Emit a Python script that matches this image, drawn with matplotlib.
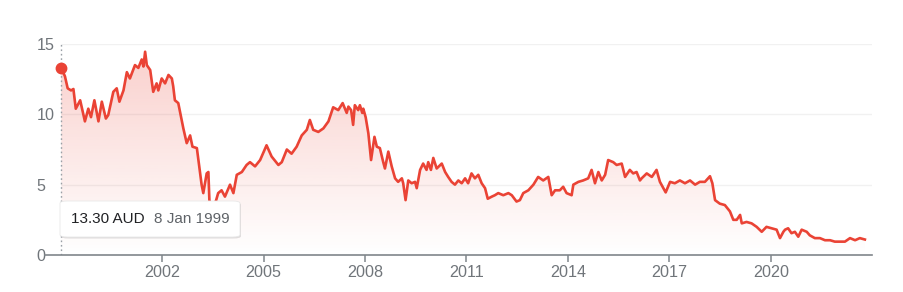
import matplotlib.pyplot as plt
import numpy as np
from matplotlib.patches import FancyBboxPatch

plt.rcParams['font.family'] = ['Liberation Sans', 'DejaVu Sans']

# price history (decimal year, AUD)
years = [
    1999.02, 1999.13, 1999.21, 1999.31, 1999.38, 1999.45, 1999.58, 1999.72, 1999.82, 1999.90,
    2000.00, 2000.12, 2000.22, 2000.34, 2000.41, 2000.56, 2000.66, 2000.74, 2000.86, 2000.96,
    2001.05, 2001.20, 2001.30, 2001.40, 2001.45, 2001.50, 2001.55, 2001.65, 2001.74, 2001.84,
    2001.89, 2001.99, 2002.09, 2002.19, 2002.29, 2002.33, 2002.38, 2002.48, 2002.63, 2002.73,
    2002.83, 2002.90, 2003.03, 2003.09, 2003.17, 2003.22, 2003.32, 2003.37, 2003.40, 2003.48,
    2003.60, 2003.66, 2003.76, 2003.86, 2004.01, 2004.11, 2004.21, 2004.36, 2004.50, 2004.60,
    2004.75, 2004.90, 2005.09, 2005.24, 2005.44, 2005.54, 2005.69, 2005.83, 2005.98, 2006.13,
    2006.28, 2006.37, 2006.47, 2006.62, 2006.77, 2006.92, 2007.06, 2007.21, 2007.34, 2007.46,
    2007.51, 2007.59, 2007.65, 2007.70, 2007.80, 2007.85, 2007.92, 2007.95, 2008.02, 2008.10,
    2008.18, 2008.28, 2008.35, 2008.44, 2008.54, 2008.59, 2008.69, 2008.79, 2008.89, 2008.98,
    2009.09, 2009.13, 2009.20, 2009.28, 2009.38, 2009.48, 2009.53, 2009.63, 2009.72, 2009.82,
    2009.87, 2009.95, 2010.02, 2010.12, 2010.27, 2010.37, 2010.46, 2010.56, 2010.66, 2010.76,
    2010.86, 2010.96, 2011.05, 2011.15, 2011.25, 2011.35, 2011.45, 2011.55, 2011.63, 2011.75,
    2011.84, 2011.94, 2012.09, 2012.24, 2012.34, 2012.48, 2012.58, 2012.68, 2012.83, 2012.98,
    2013.12, 2013.27, 2013.42, 2013.52, 2013.62, 2013.76, 2013.86, 2013.96, 2014.11, 2014.16,
    2014.31, 2014.45, 2014.60, 2014.70, 2014.80, 2014.90, 2015.00, 2015.10, 2015.19, 2015.34,
    2015.44, 2015.59, 2015.69, 2015.83, 2015.93, 2016.03, 2016.13, 2016.18, 2016.33, 2016.48,
    2016.62, 2016.72, 2016.89, 2017.02, 2017.16, 2017.31, 2017.46, 2017.61, 2017.76, 2017.90,
    2018.05, 2018.20, 2018.27, 2018.35, 2018.49, 2018.64, 2018.79, 2018.89, 2018.99, 2019.09,
    2019.14, 2019.28, 2019.43, 2019.58, 2019.73, 2019.87, 2020.02, 2020.17, 2020.27, 2020.37,
    2020.42, 2020.51, 2020.61, 2020.71, 2020.81, 2020.91, 2021.06, 2021.15, 2021.30, 2021.45,
    2021.60, 2021.75, 2021.89, 2022.04, 2022.19, 2022.34, 2022.49, 2022.63, 2022.78,
]
prices = [
    13.30, 12.70, 11.85, 11.70, 11.80, 10.40, 11.00, 9.50, 10.40, 9.80,
    11.00, 9.50, 10.90, 9.70, 9.95, 11.60, 11.85, 10.90, 11.70, 13.00,
    12.55, 13.50, 13.30, 13.90, 13.40, 14.45, 13.50, 13.15, 11.60, 12.20,
    11.70, 12.55, 12.20, 12.80, 12.55, 12.00, 11.00, 10.80, 9.00, 7.95,
    8.50, 7.70, 7.60, 6.50, 5.00, 4.40, 5.80, 5.90, 3.90, 3.20,
    3.90, 4.40, 4.60, 4.15, 5.00, 4.40, 5.70, 5.90, 6.40, 6.60,
    6.30, 6.75, 7.80, 7.00, 6.40, 6.60, 7.50, 7.20, 7.70, 8.50,
    8.90, 9.60, 8.90, 8.75, 9.00, 9.50, 10.50, 10.30, 10.80, 10.10,
    10.55, 10.30, 9.25, 10.65, 10.30, 10.65, 10.10, 10.40, 9.80, 8.65,
    6.75, 8.40, 7.70, 7.60, 6.60, 6.15, 7.35, 6.30, 5.45, 5.20,
    5.45, 5.10, 3.90, 5.30, 5.10, 5.20, 4.75, 6.05, 6.50, 6.05,
    6.60, 6.05, 6.90, 6.15, 6.50, 5.90, 5.55, 5.20, 5.00, 5.30,
    5.10, 5.45, 5.10, 5.80, 5.45, 5.70, 5.10, 4.75, 4.00, 4.15,
    4.25, 4.40, 4.25, 4.40, 4.25, 3.80, 3.90, 4.40, 4.60, 5.00,
    5.55, 5.30, 5.55, 4.25, 4.60, 4.60, 4.85, 4.40, 4.25, 5.00,
    5.20, 5.30, 5.45, 6.05, 5.10, 5.90, 5.30, 5.70, 6.75, 6.60,
    6.40, 6.50, 5.55, 6.05, 5.80, 5.90, 5.30, 5.45, 5.80, 5.55,
    6.05, 5.20, 4.45, 5.20, 5.10, 5.30, 5.10, 5.30, 5.00, 5.20,
    5.20, 5.60, 5.10, 3.90, 3.65, 3.55, 3.10, 2.50, 2.50, 2.85,
    2.25, 2.35, 2.25, 2.00, 1.65, 2.00, 1.90, 1.80, 1.20, 1.65,
    1.80, 1.90, 1.55, 1.65, 1.30, 1.80, 1.65, 1.40, 1.20, 1.20,
    1.05, 1.05, 0.95, 0.95, 0.95, 1.20, 1.05, 1.20, 1.10,
]

ytick_vals = [0, 5, 10, 15]
xtick_vals = [2002, 2005, 2008, 2011, 2014, 2017, 2020]
tooltip_price = '13.30 AUD'
tooltip_date = '8 Jan 1999'

red = '#ea4335'
gray_txt = '#70757a'
axis_col = '#80868b'

W, H = 904, 292
fig = plt.figure(figsize=(W / 100, H / 100), dpi=100)
ax = fig.add_axes([45 / W, 37 / H, 827 / W, 211 / H])
ax.set_xlim(1998.54, 2022.99)
ax.set_ylim(0, 15)

# faint gridlines
ax.hlines([5, 10, 15], years[0], 2022.99, color='#f1f1f1', lw=1, zorder=0)

# gradient fill under the line
poly = ax.fill_between(years, prices, 0, facecolor='none', edgecolor='none')
grad = np.linspace(0, 1, 256)
rgba = np.zeros((256, 1, 4))
rgba[:, 0, 0] = 234 / 255
rgba[:, 0, 1] = 67 / 255
rgba[:, 0, 2] = 53 / 255
rgba[:, 0, 3] = 0.26 * grad
im = ax.imshow(rgba, extent=[1998.54, 2022.99, 0, 15], origin='lower',
               aspect='auto', zorder=1)
im.set_clip_path(poly.get_paths()[0], transform=ax.transData)

ax.plot(years, prices, color=red, lw=1.9, zorder=3)

# hover marker
ax.axvline(years[0], color='#9aa0a6', lw=1, ls=(0, (1.2, 2)), zorder=2)
ax.plot([years[0]], [prices[0]], 'o', ms=7.5, color=red, zorder=4, clip_on=False)

for s in ['top', 'right', 'left']:
    ax.spines[s].set_visible(False)
ax.spines['bottom'].set_color(axis_col)
ax.spines['bottom'].set_linewidth(1.2)

ax.set_xticks(xtick_vals)
ax.set_xticklabels([str(v) for v in xtick_vals])
ax.tick_params(axis='x', direction='out', length=5, width=1.1, color=axis_col,
               labelcolor=gray_txt, labelsize=11.6, pad=2)
ax.set_yticks(ytick_vals)
ax.set_yticklabels([str(v) for v in ytick_vals])
ax.tick_params(axis='y', length=0, labelcolor=gray_txt, labelsize=11.6, pad=6)
for lab in ax.get_yticklabels():
    lab.set_horizontalalignment('left')

# tooltip box
shadow = FancyBboxPatch((61 / W, (H - 238.5) / H), 180 / W, 36 / H,
                        boxstyle='round,pad=0,rounding_size=0.008',
                        transform=fig.transFigure, facecolor='#000000',
                        alpha=0.12, edgecolor='none', zorder=9)
fig.add_artist(shadow)
box = FancyBboxPatch((60 / W, (H - 237) / H), 180 / W, 36 / H,
                     boxstyle='round,pad=0,rounding_size=0.008',
                     transform=fig.transFigure, facecolor='white',
                     edgecolor='#e8e8e8', lw=0.6, zorder=10)
fig.add_artist(box)
fig.text(71 / W, (H - 219) / H, tooltip_price, color='#202124', fontsize=11,
         va='center', ha='left', zorder=11)
fig.text(154 / W, (H - 219) / H, tooltip_date, color='#5f6368', fontsize=11,
         va='center', ha='left', zorder=11)

fig.savefig('out.png', dpi=100, facecolor='white')
